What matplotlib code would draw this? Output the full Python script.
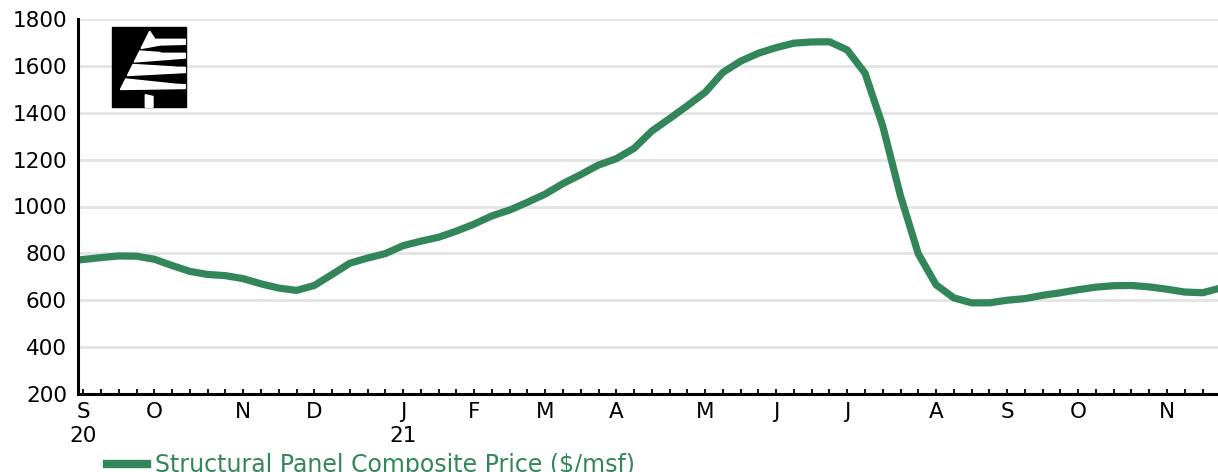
import numpy as np
import matplotlib.pyplot as plt
from matplotlib.patches import Polygon, Rectangle

# weekly structural panel composite price, Sep 2020 - Nov 2021
price = [774, 782, 789, 788, 775, 748, 723, 710, 705, 692,
         670, 652, 642, 663, 710, 758, 780, 799, 833, 852,
         869, 895, 925, 960, 985, 1018, 1053, 1098, 1136, 1177,
         1204, 1248, 1322, 1375, 1430, 1487, 1572, 1620, 1654, 1678,
         1697, 1702, 1703, 1668, 1569, 1343, 1045, 798, 666, 610,
         589, 589, 600, 607, 621, 632, 645, 656, 662, 663,
         657, 647, 635, 632, 652]
month_pos = [0, 4, 9, 13, 18, 22, 26, 30, 35, 39, 43, 48, 52, 56, 61]
month_lbl = ['S\n20', 'O', 'N', 'D', 'J\n21', 'F', 'M', 'A',
             'M', 'J', 'J', 'A', 'S', 'O', 'N']
yticks = [200, 400, 600, 800, 1000, 1200, 1400, 1600, 1800]
series_name = 'Structural Panel Composite Price ($/msf)'

GREEN = '#33865a'
plt.rcParams['font.family'] = ['DejaVu Sans']

fig = plt.figure(figsize=(12.18, 4.72), dpi=100)
ax = fig.add_axes([78/1218, 1-394/472, 1140/1218, 375/472])

x = np.arange(len(price))
line, = ax.plot(x, price, color=GREEN, lw=5.2, solid_joinstyle='round',
                label=series_name, zorder=3)

ax.set_xlim(-0.3, 63.87)
ax.set_ylim(200, 1800)
ax.set_yticks(yticks)
ax.set_yticklabels([str(v) for v in yticks], fontsize=15.5)
ax.tick_params(axis='y', length=0, pad=8)
ax.grid(axis='y', color='#e4e4e4', lw=2, zorder=0)

lbls = dict(zip(month_pos, month_lbl))
ticks = list(range(64))
ax.set_xticks(ticks)
ax.set_xticklabels([lbls.get(t, '') for t in ticks], fontsize=15.5, linespacing=1.2)
ax.tick_params(axis='x', direction='in', length=3.5, width=1.3, pad=6)

for s in ['top', 'right']:
    ax.spines[s].set_visible(False)
for s in ['left', 'bottom']:
    ax.spines[s].set_linewidth(2.2)
    ax.spines[s].set_color('black')
    ax.spines[s].set_zorder(4)

# logo (tree on black square)
lg = fig.add_axes([108/1218, 1-112/472, 80/1218, 88/472])
lg.set_xlim(0, 80)
lg.set_ylim(88, 0)
lg.axis('off')
lg.add_patch(Rectangle((4, 2.7), 74, 80.6, color='black'))


def diag(y):
    return 41.7 - 0.503 * (y - 7.3)


tiers = [
    [(41.7, 7.3), (47, 15.3), (77.3, 15.3), (77.3, 20.3), (52, 21), (diag(24.5), 24.5)],
    [(diag(27), 27), (51.7, 28.5), (53.5, 29.3), (77.3, 29.3), (77.3, 34), (diag(38), 38)],
    [(diag(40.5), 40.5), (66.7, 43), (68.3, 43.3), (77.3, 43.3), (77.3, 48.5), (diag(51.5), 51.5)],
    [(diag(55), 55), (68.3, 60.3), (77.3, 60.7), (77.3, 64.5), (diag(65.5), 65.5)],
]
for t in tiers:
    lg.add_patch(Polygon(t, closed=True, color='white'))
lg.add_patch(Polygon([(37.3, 70.7), (45, 72.5), (45, 83.3), (37.3, 83.3)],
                     closed=True, color='white'))

leg = fig.legend(handles=[line], loc='center left',
                 bbox_to_anchor=(107/1218, 1-465/472), frameon=False,
                 fontsize=17, handlelength=1.7, handletextpad=0.34,
                 borderpad=0, borderaxespad=0, labelcolor=GREEN)
leg.get_lines()[0].set_linewidth(6)

fig.savefig('out.png', dpi=100)
